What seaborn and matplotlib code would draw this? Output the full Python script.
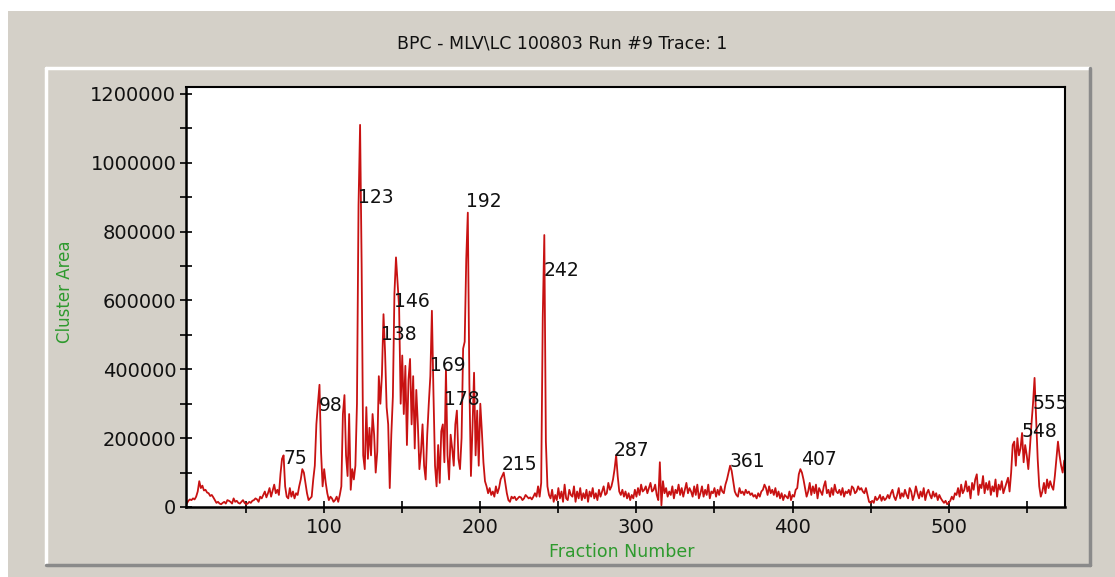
import numpy as np
import pandas as pd
import matplotlib
matplotlib.use("Agg")
import matplotlib.pyplot as plt
from matplotlib.lines import Line2D
from matplotlib.patches import Rectangle
from matplotlib.ticker import MultipleLocator
import seaborn as sns

# ---------------- data (values in thousands, fractions 11..575) ----------------
fraction_start = 11
area_k_011_100 = [
    5, 10, 18, 22, 20, 25, 22, 30, 45, 75,
    55, 62, 48, 50, 42, 40, 32, 35, 28, 20,
    12, 15, 10, 8, 12, 15, 10, 20, 18, 15,
    10, 25, 15, 18, 12, 10, 15, 20, 12, 8,
    10, 15, 12, 18, 20, 25, 22, 15, 30, 25,
    35, 45, 28, 40, 55, 30, 48, 65, 40, 50,
    35, 95, 140, 150, 60, 30, 25, 55, 30, 45,
    25, 40, 35, 60, 80, 110, 100, 70, 40, 20,
    25, 30, 80, 120, 240, 300, 355, 160, 60, 110,
]
area_k_101_200 = [
    70, 40, 20, 30, 25, 15, 20, 30, 15, 35,
    60, 270, 325, 150, 90, 270, 50, 110, 80, 120,
    300, 875, 1110, 700, 150, 110, 290, 140, 230, 150,
    270, 210, 100, 160, 380, 300, 385, 560, 450, 290,
    240, 55, 210, 320, 620, 725, 650, 580, 300, 440,
    270, 410, 180, 370, 430, 240, 380, 170, 340, 240,
    110, 160, 240, 120, 80, 210, 300, 380, 570, 330,
    120, 60, 180, 70, 220, 240, 130, 400, 150, 80,
    210, 170, 120, 240, 280, 140, 110, 200, 460, 480,
    720, 855, 360, 90, 230, 390, 150, 280, 120, 300,
]
area_k_201_300 = [
    220, 130, 75, 60, 40, 55, 35, 45, 30, 60,
    40, 55, 80, 90, 100, 70, 40, 20, 15, 30,
    25, 30, 20, 25, 30, 28, 20, 25, 35, 30,
    25, 28, 22, 30, 40, 30, 60, 30, 70, 550,
    790, 190, 60, 35, 25, 50, 15, 35, 20, 55,
    25, 45, 15, 65, 25, 20, 50, 35, 30, 60,
    15, 45, 25, 55, 20, 40, 25, 50, 15, 45,
    30, 55, 25, 40, 20, 50, 30, 45, 60, 35,
    40, 70, 50, 60, 80, 110, 150, 90, 45, 35,
    50, 30, 45, 25, 40, 20, 35, 25, 50, 30,
]
area_k_301_400 = [
    55, 35, 65, 45, 50, 60, 40, 55, 70, 45,
    50, 65, 35, 20, 130, 5, 75, 40, 55, 30,
    45, 35, 60, 25, 50, 40, 65, 35, 55, 30,
    50, 70, 40, 55, 45, 30, 60, 35, 65, 25,
    40, 60, 30, 50, 35, 65, 25, 45, 40, 55,
    30, 50, 35, 60, 45, 40, 65, 80, 100, 120,
    105, 75, 45, 35, 30, 55, 40, 45, 35, 50,
    40, 45, 35, 40, 30, 35, 25, 40, 30, 45,
    50, 65, 55, 35, 60, 40, 50, 35, 55, 30,
    45, 25, 40, 20, 35, 30, 25, 45, 20, 35,
]
area_k_401_500 = [
    30, 50, 55, 95, 110, 100, 80, 55, 30, 45,
    70, 35, 60, 40, 65, 25, 55, 45, 35, 60,
    75, 40, 50, 30, 55, 35, 65, 45, 40, 50,
    35, 55, 30, 45, 40, 50, 35, 60, 55, 40,
    45, 60, 50, 55, 45, 40, 55, 35, 15, 12,
    18, 12, 30, 20, 25, 35, 18, 30, 20, 25,
    35, 25, 40, 50, 30, 20, 35, 55, 25, 40,
    30, 50, 35, 25, 55, 45, 20, 35, 60, 40,
    25, 45, 30, 55, 20, 40, 50, 35, 25, 45,
    30, 40, 20, 35, 25, 18, 12, 18, 8, 12,
]
area_k_501_575 = [
    18, 30, 22, 40, 35, 55, 30, 65, 40, 50,
    75, 45, 60, 25, 70, 50, 80, 95, 35, 65,
    55, 90, 40, 70, 50, 75, 35, 60, 45, 80,
    30, 65, 50, 75, 40, 55, 70, 85, 45, 100,
    180, 190, 120, 200, 150, 170, 215, 130, 180, 150,
    110, 170, 240, 300, 375, 260, 140, 60, 30, 45,
    70, 40, 80, 55, 75, 60, 50, 90, 140, 190,
    150, 120, 100, 135, 120,
]

peak_labels = [75, 98, 123, 138, 146, 169, 178, 192, 215, 242, 287, 361, 407, 548, 555]
label_values = [142000, 296000, 898000, 500000, 596000, 410000, 311000, 886000,
                122000, 686000, 163000, 131000, 137000, 218000, 302000]

y_ticks = [0, 200000, 400000, 600000, 800000, 1000000, 1200000]
x_ticks = [100, 200, 300, 400, 500]
title_text = "BPC - MLV\\LC 100803 Run #9 Trace: 1"
x_label = "Fraction Number"
y_label = "Cluster Area"

# ---------------- build ----------------
area_k = (area_k_011_100 + area_k_101_200 + area_k_201_300 +
          area_k_301_400 + area_k_401_500 + area_k_501_575)
fractions = np.arange(fraction_start, fraction_start + len(area_k))
df = pd.DataFrame({"fraction": fractions, "area": np.array(area_k) * 1000.0})

sns.set_style("white")
plt.rcParams["font.family"] = ["DejaVu Sans"]

W, H = 1115, 577
fig = plt.figure(figsize=(W / 100, H / 100), dpi=100)
bg = "#d4d0c8"
fig.patch.set_facecolor(bg)

def fx(px):
    return px / W

def fy(py):
    return 1 - py / H

# white strips at top and left edge of the screenshot
fig.add_artist(Rectangle((0, fy(11)), 1, 1 - fy(11), transform=fig.transFigure,
                         facecolor="white", edgecolor="none", zorder=0))
fig.add_artist(Rectangle((0, 0), fx(8), 1, transform=fig.transFigure,
                         facecolor="white", edgecolor="none", zorder=0))

# 3D panel border
fig.add_artist(Line2D([fx(46), fx(1090)], [fy(68), fy(68)], transform=fig.transFigure,
                      color="white", lw=2.5))
fig.add_artist(Line2D([fx(46), fx(46)], [fy(68), fy(565)], transform=fig.transFigure,
                      color="white", lw=2.5))
fig.add_artist(Line2D([fx(46), fx(1090)], [fy(565), fy(565)], transform=fig.transFigure,
                      color="#8a8a8a", lw=2.5))
fig.add_artist(Line2D([fx(1090), fx(1090)], [fy(68), fy(565)], transform=fig.transFigure,
                      color="#8a8a8a", lw=2.5))

ax = fig.add_axes([fx(186), fy(507), fx(1065) - fx(186), fy(87) - fy(507)])
ax.set_facecolor("white")

sns.lineplot(data=df, x="fraction", y="area", ax=ax, color="#c81212", lw=1.3,
             estimator=None, errorbar=None)

ax.set_xlim(11.5, 574.5)
ax.set_ylim(0, 1220000)
ax.set_xticks(x_ticks)
ax.set_yticks(y_ticks)
ax.set_yticklabels([str(v) for v in y_ticks])
ax.xaxis.set_minor_locator(MultipleLocator(50))
ax.yaxis.set_minor_locator(MultipleLocator(100000))
ax.tick_params(axis="both", which="both", direction="inout", length=8, width=1.2,
               color="black", labelsize=14, labelcolor="#111111")
ax.tick_params(axis="x", which="major", pad=4)
ax.tick_params(axis="y", which="major", pad=3)
ax.tick_params(left=True, bottom=True, which="both")
for side in ["left", "bottom", "top", "right"]:
    ax.spines[side].set_visible(True)
    ax.spines[side].set_color("black")
ax.spines["left"].set_linewidth(1.8)
ax.spines["bottom"].set_linewidth(1.8)
ax.spines["top"].set_linewidth(1.5)
ax.spines["right"].set_linewidth(1.5)
ax.set_xlabel("")
ax.set_ylabel("")

for lab, val in zip(peak_labels, label_values):
    ax.annotate(str(lab), xy=(lab, val), xytext=(-1.5, 0), textcoords="offset points",
                ha="left", va="center", fontsize=13.5, color="#111111", zorder=5)

fig.text(fx(562), fy(43), title_text, ha="center", va="center", fontsize=12.5,
         color="#111111")
fig.text(fx(622), fy(552), x_label, ha="center", va="center", fontsize=12.5,
         color="#2e9a2e")
fig.text(fx(65), fy(292), y_label, ha="center", va="center", rotation=90,
         fontsize=12, color="#2e9a2e")

fig.savefig("out.png", dpi=100, facecolor=fig.get_facecolor())
